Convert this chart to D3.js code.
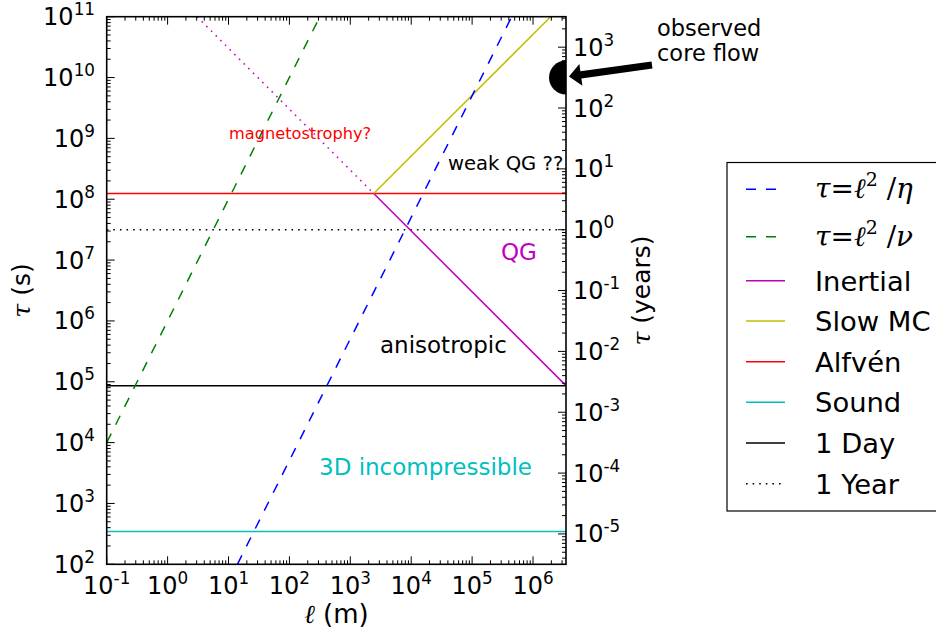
<!DOCTYPE html>
<html><head><meta charset="utf-8">
<script src="https://cdn.jsdelivr.net/npm/d3@7"></script>
<style>body{margin:0;background:#fff} svg{display:block}</style>
</head><body><svg id="c" width="936" height="637"></svg>
<script>
// ---------- data ----------
const lDomain = [0.1, 3.48e6];            // length scale ℓ (m)
const tauDomain = [1e2, 1e11];            // time scale τ (s)
const secondsPerYear = 3.156e7;

const etaL = [14, 4.47e5],     etaTau = [1e2, 1e11];      // τ = ℓ²/η
const nuL = [0.1, 316],        nuTau = [1e4, 1e11];       // τ = ℓ²/ν
const inertialDotL = [3.04, 2425],   inertialDotTau = [1e11, 1.24e8];
const inertialL = [2425, 3.48e6],    inertialTau = [1.24e8, 86400];
const slowMCL = [2425, 1.95e6],      slowMCTau = [1.24e8, 1e11];
const alfvenTau = 1.24e8;
const soundTau = 345;
const dayTau = 86400;
const yearTau = 3.156e7;
const coreFlowTau = 1e10;

const xTickExps = [-1, 0, 1, 2, 3, 4, 5, 6];
const yTickExps = [2, 3, 4, 5, 6, 7, 8, 9, 10, 11];
const yearTickExps = [-5, -4, -3, -2, -1, 0, 1, 2, 3];

const legendLabels = ["eta", "nu", "Inertial", "Slow MC", "Alfvén", "Sound", "1 Day", "1 Year"];
const legendColors = ["#0000ff", "#008000", "#bf00bf", "#bfbf00", "#ff0000", "#00bfbf", "#000000", "#000000"];
const legendStyles = ["dash", "dash", "solid", "solid", "solid", "solid", "solid", "dot"];

// ---------- layout ----------
const svg = d3.select("#c");
const L = 106.7, R = 566, T = 16.7, B = 564.3;
const x = d3.scaleLog().domain(lDomain).range([L, R]);
const y = d3.scaleLog().domain(tauDomain).range([B, T]);
const yYears = d3.scaleLog().domain(tauDomain.map(v => v / secondsPerYear)).range([B, T]);
const FONT = "DejaVu Sans, sans-serif";
const MATH = "DejaVu Serif, serif";
const DASH = "10,10", DOT = "1.6,5";

svg.append("defs").append("clipPath").attr("id", "plotclip")
  .append("rect").attr("x", L).attr("y", T).attr("width", R - L).attr("height", B - T);

const plot = svg.append("g").attr("clip-path", "url(#plotclip)");
const line = d3.line().x(d => x(d[0])).y(d => y(d[1]));
function drawSeries(ls, ts, color, style) {
  plot.append("path").datum(ls.map((l, i) => [l, ts[i]]))
    .attr("d", line).attr("fill", "none").attr("stroke", color).attr("stroke-width", 1.5)
    .attr("stroke-dasharray", style === "dash" ? DASH : style === "dot" ? DOT : null);
}
drawSeries(lDomain, [soundTau, soundTau], "#00bfbf", "solid");
drawSeries(lDomain, [dayTau, dayTau], "#000000", "solid");
drawSeries(lDomain, [yearTau, yearTau], "#000000", "dot");
drawSeries(lDomain, [alfvenTau, alfvenTau], "#ff0000", "solid");
drawSeries(inertialDotL, inertialDotTau, "#bf00bf", "dot");
drawSeries(inertialL, inertialTau, "#bf00bf", "solid");
drawSeries(slowMCL, slowMCTau, "#bfbf00", "solid");
drawSeries(etaL, etaTau, "#0000ff", "dash");
drawSeries(nuL, nuTau, "#008000", "dash");

// observed core flow marker (clipped by axes)
plot.append("circle").attr("cx", x(lDomain[1])).attr("cy", y(coreFlowTau)).attr("r", 17).attr("fill", "#000");

// annotations in plot
function ann(txt, px, py, size, color) {
  svg.append("text").attr("x", px).attr("y", py).attr("font-family", FONT).attr("font-size", size)
    .attr("fill", color).text(txt);
}
ann("magnetostrophy?", 229, 139, 16.2, "#ff0000");
ann("weak QG ??", 448, 170, 19.6, "#000000");
ann("QG", 501, 260, 23, "#bf00bf");
ann("anisotropic", 380, 353, 23, "#000000");
ann("3D incompressible", 319, 475, 23, "#00bfbf");

// ---------- axes ----------
const axes = svg.append("g");
axes.append("rect").attr("x", L).attr("y", T).attr("width", R - L).attr("height", B - T)
  .attr("fill", "none").attr("stroke", "#000").attr("stroke-width", 1.6);

function minorList(scale, lo, hi) {
  const out = [];
  for (let e = lo; e <= hi; e++) for (let k = 2; k <= 9; k++) {
    const v = k * Math.pow(10, e);
    const d = scale.domain();
    if (v > d[0] && v < d[1]) out.push(v);
  }
  return out;
}
const tickG = axes.append("g").attr("stroke", "#000").attr("stroke-width", 1);
// x ticks bottom + top
xTickExps.forEach(e => {
  const px = x(Math.pow(10, e));
  tickG.append("line").attr("x1", px).attr("x2", px).attr("y1", B).attr("y2", B - 8);
  tickG.append("line").attr("x1", px).attr("x2", px).attr("y1", T).attr("y2", T + 8);
});
minorList(x, -1, 6).forEach(v => {
  const px = x(v);
  tickG.append("line").attr("x1", px).attr("x2", px).attr("y1", B).attr("y2", B - 4);
  tickG.append("line").attr("x1", px).attr("x2", px).attr("y1", T).attr("y2", T + 4);
});
// left ticks (seconds)
yTickExps.forEach(e => {
  const py = y(Math.pow(10, e));
  tickG.append("line").attr("x1", L).attr("x2", L + 8).attr("y1", py).attr("y2", py);
});
minorList(y, 2, 10).forEach(v => {
  const py = y(v);
  tickG.append("line").attr("x1", L).attr("x2", L + 4).attr("y1", py).attr("y2", py);
});
// right ticks (years)
yearTickExps.forEach(e => {
  const py = yYears(Math.pow(10, e));
  tickG.append("line").attr("x1", R).attr("x2", R - 8).attr("y1", py).attr("y2", py);
});
minorList(yYears, -6, 3).forEach(v => {
  const py = yYears(v);
  tickG.append("line").attr("x1", R).attr("x2", R - 4).attr("y1", py).attr("y2", py);
});

function powLabel(px, py, e, anchor) {
  const t = axes.append("text").attr("x", px).attr("y", py).attr("font-family", FONT)
    .attr("font-size", 24).attr("text-anchor", anchor).attr("fill", "#000");
  t.append("tspan").text("10");
  t.append("tspan").attr("dy", -10).attr("font-size", 16.8).text(String(e));
}
xTickExps.forEach(e => powLabel(x(Math.pow(10, e)), 594, e, "middle"));
yTickExps.forEach(e => powLabel(95, y(Math.pow(10, e)) + 8.5, e, "end"));
yearTickExps.forEach(e => powLabel(573, yYears(Math.pow(10, e)) + 8.5, e, "start"));

// axis labels
const xl = axes.append("text").attr("x", (L + R) / 2).attr("y", 623).attr("text-anchor", "middle")
  .attr("font-family", FONT).attr("font-size", 26);
xl.append("tspan").attr("font-family", MATH).attr("font-style", "italic").text("ℓ");
xl.append("tspan").text(" (m)");
const yl = axes.append("text").attr("transform", `translate(30,${(T + B) / 2}) rotate(-90)`)
  .attr("text-anchor", "middle").attr("font-family", FONT).attr("font-size", 25);
yl.append("tspan").attr("font-family", MATH).attr("font-style", "italic").text("τ");
yl.append("tspan").text(" (s)");
const yr = axes.append("text").attr("transform", `translate(650,${(T + B) / 2}) rotate(-90)`)
  .attr("text-anchor", "middle").attr("font-family", FONT).attr("font-size", 25);
yr.append("tspan").attr("font-family", MATH).attr("font-style", "italic").text("τ");
yr.append("tspan").text(" (years)");

// observed core flow arrow + text
ann("observed", 657, 36, 22.5, "#000");
ann("core flow", 657, 61, 22.5, "#000");
{
  const tail = [652, 65], tip = [x(lDomain[1]) + 3, y(coreFlowTau) - 1];
  const dx = tip[0] - tail[0], dy = tip[1] - tail[1], len = Math.hypot(dx, dy);
  const ux = dx / len, uy = dy / len, nx = -uy, ny = ux;
  const sw = 3.6, hw = 11, hl = 12;
  const bx = tip[0] - ux * hl, by = tip[1] - uy * hl;
  const pts = [
    [tail[0] + nx * sw, tail[1] + ny * sw], [bx + nx * sw, by + ny * sw], [bx + nx * hw, by + ny * hw],
    tip, [bx - nx * hw, by - ny * hw], [bx - nx * sw, by - ny * sw], [tail[0] - nx * sw, tail[1] - ny * sw]
  ];
  svg.append("polygon").attr("points", pts.map(p => p.join(",")).join(" ")).attr("fill", "#000");
}

// ---------- legend ----------
const lg = svg.append("g");
lg.append("rect").attr("x", 727).attr("y", 162.5).attr("width", 240).attr("height", 348.5)
  .attr("fill", "#fff").attr("stroke", "#000").attr("stroke-width", 1.2);
const rowY = [189.3, 236.7, 280.7, 321, 361.7, 402.3, 443, 483.7];
legendLabels.forEach((lab, i) => {
  const ry = rowY[i];
  lg.append("line").attr("x1", 746).attr("x2", 785).attr("y1", ry).attr("y2", ry)
    .attr("stroke", legendColors[i]).attr("stroke-width", 1.5)
    .attr("stroke-dasharray", legendStyles[i] === "dash" ? DASH : legendStyles[i] === "dot" ? DOT : null);
  const t = lg.append("text").attr("x", 815).attr("y", ry + 10).attr("font-family", FONT).attr("font-size", 27.4);
  if (lab === "eta" || lab === "nu") {
    t.attr("font-family", MATH).attr("font-size", 28).attr("y", ry + 9);
    t.append("tspan").attr("font-style", "italic").text("τ");
    t.append("tspan").text("=");
    t.append("tspan").attr("font-style", "italic").text("ℓ");
    t.append("tspan").attr("dy", -12).attr("font-size", 19).text("2");
    t.append("tspan").attr("dy", 12).text(" /");
    t.append("tspan").attr("font-style", "italic").text(lab === "eta" ? "η" : "ν");
  } else {
    t.text(lab);
  }
});
</script></body></html>
